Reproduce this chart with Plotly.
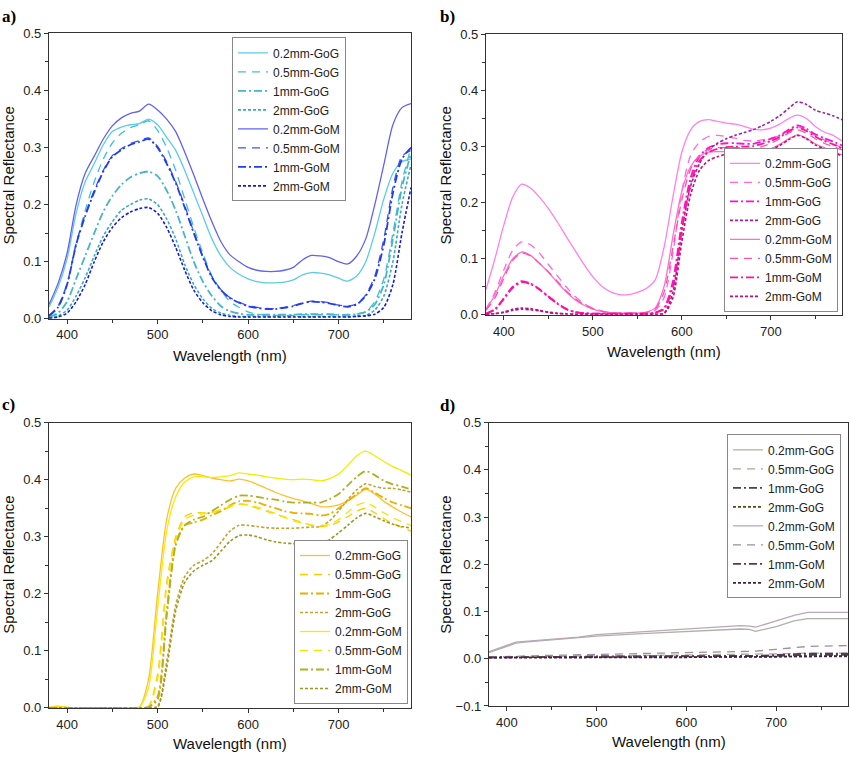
import plotly.graph_objects as go

# ---------------- DATA ----------------
wl = [380, 390, 400, 410, 420, 430, 440, 450, 460, 470, 480, 490, 500, 510, 520, 530, 540,
      550, 560, 570, 580, 590, 600, 610, 620, 630, 640, 650, 660, 670, 680, 690, 700, 710,
      720, 730, 740, 750, 760, 770, 780]
series_names = ["0.2mm-GoG", "0.5mm-GoG", "1mm-GoG", "2mm-GoG",
                "0.2mm-GoM", "0.5mm-GoM", "1mm-GoM", "2mm-GoM"]

# panel a
a_GoG_02 = [0.020,0.055,0.105,0.185,0.240,0.272,0.305,0.328,0.336,0.340,0.342,0.350,0.340,0.318,0.295,0.260,0.220,0.180,0.140,0.110,0.090,0.078,0.070,0.065,0.063,0.063,0.064,0.068,0.077,0.081,0.080,0.077,0.071,0.066,0.075,0.100,0.150,0.210,0.255,0.275,0.280]
a_GoG_05 = [0.005,0.020,0.060,0.130,0.190,0.240,0.280,0.308,0.325,0.335,0.340,0.347,0.330,0.300,0.260,0.210,0.160,0.115,0.075,0.050,0.030,0.020,0.012,0.008,0.007,0.006,0.006,0.006,0.007,0.007,0.007,0.007,0.007,0.007,0.008,0.012,0.030,0.070,0.150,0.240,0.300]
a_GoG_1 = [0.003,0.010,0.030,0.070,0.110,0.150,0.188,0.215,0.235,0.248,0.255,0.258,0.250,0.225,0.190,0.145,0.100,0.065,0.040,0.022,0.013,0.009,0.007,0.007,0.007,0.007,0.007,0.007,0.008,0.008,0.008,0.008,0.007,0.007,0.008,0.012,0.025,0.060,0.140,0.230,0.290]
a_GoG_2 = [0.002,0.005,0.015,0.040,0.072,0.110,0.145,0.170,0.190,0.200,0.208,0.210,0.200,0.175,0.140,0.095,0.060,0.035,0.018,0.010,0.006,0.004,0.004,0.004,0.004,0.004,0.004,0.004,0.004,0.004,0.004,0.004,0.004,0.004,0.005,0.006,0.015,0.040,0.100,0.200,0.270]
a_GoM_02 = [0.025,0.062,0.115,0.200,0.255,0.285,0.315,0.338,0.352,0.360,0.364,0.376,0.366,0.350,0.328,0.292,0.252,0.210,0.170,0.135,0.112,0.100,0.090,0.085,0.083,0.083,0.085,0.090,0.103,0.111,0.110,0.107,0.100,0.096,0.110,0.140,0.200,0.270,0.340,0.370,0.377]
a_GoM_05 = [0.006,0.022,0.062,0.132,0.183,0.225,0.260,0.286,0.298,0.307,0.312,0.317,0.302,0.275,0.240,0.198,0.152,0.110,0.074,0.051,0.037,0.029,0.023,0.020,0.018,0.018,0.020,0.023,0.028,0.031,0.030,0.028,0.024,0.022,0.026,0.042,0.075,0.140,0.230,0.285,0.295]
a_GoM_1 = [0.005,0.020,0.060,0.130,0.180,0.222,0.258,0.284,0.296,0.305,0.310,0.315,0.300,0.272,0.238,0.195,0.150,0.108,0.072,0.050,0.036,0.028,0.022,0.019,0.017,0.017,0.019,0.022,0.027,0.030,0.029,0.027,0.023,0.021,0.025,0.040,0.070,0.130,0.220,0.280,0.300]
a_GoM_2 = [0.001,0.003,0.010,0.030,0.060,0.100,0.135,0.160,0.177,0.187,0.193,0.195,0.185,0.160,0.125,0.085,0.050,0.028,0.014,0.007,0.004,0.003,0.003,0.003,0.003,0.003,0.003,0.003,0.003,0.003,0.003,0.003,0.003,0.003,0.004,0.005,0.008,0.020,0.060,0.150,0.230]

# panel b
b_GoG_02 = [0.045,0.100,0.160,0.210,0.233,0.226,0.210,0.190,0.166,0.140,0.115,0.090,0.068,0.051,0.041,0.036,0.036,0.040,0.047,0.062,0.120,0.210,0.290,0.330,0.345,0.348,0.345,0.342,0.340,0.336,0.331,0.330,0.333,0.340,0.350,0.356,0.350,0.336,0.326,0.320,0.310]
b_GoG_05 = [0.010,0.040,0.080,0.115,0.130,0.125,0.110,0.090,0.070,0.050,0.033,0.020,0.012,0.007,0.004,0.003,0.003,0.003,0.004,0.008,0.030,0.110,0.220,0.285,0.308,0.318,0.320,0.318,0.315,0.311,0.310,0.312,0.315,0.320,0.330,0.335,0.330,0.320,0.312,0.305,0.298]
b_GoG_1 = [0.002,0.010,0.030,0.050,0.060,0.056,0.046,0.033,0.021,0.011,0.005,0.003,0.002,0.002,0.002,0.002,0.002,0.002,0.002,0.004,0.012,0.060,0.165,0.245,0.283,0.298,0.304,0.306,0.306,0.305,0.305,0.309,0.314,0.320,0.330,0.338,0.332,0.322,0.315,0.309,0.302]
b_GoG_2 = [0.001,0.002,0.005,0.010,0.012,0.011,0.008,0.005,0.003,0.002,0.001,0.001,0.001,0.001,0.001,0.001,0.001,0.001,0.001,0.001,0.003,0.040,0.150,0.230,0.270,0.294,0.306,0.314,0.320,0.325,0.330,0.337,0.345,0.355,0.368,0.380,0.375,0.365,0.360,0.355,0.348]
b_GoM_02 = [0.010,0.035,0.070,0.100,0.112,0.106,0.092,0.076,0.058,0.041,0.027,0.017,0.010,0.006,0.004,0.003,0.003,0.003,0.005,0.012,0.050,0.140,0.220,0.265,0.283,0.290,0.291,0.291,0.290,0.289,0.288,0.290,0.296,0.304,0.314,0.321,0.315,0.305,0.298,0.292,0.285]
b_GoM_05 = [0.008,0.030,0.065,0.097,0.110,0.105,0.092,0.077,0.060,0.043,0.029,0.018,0.011,0.006,0.004,0.003,0.003,0.003,0.004,0.010,0.040,0.120,0.205,0.260,0.285,0.295,0.298,0.298,0.298,0.297,0.297,0.300,0.306,0.314,0.324,0.330,0.324,0.314,0.306,0.300,0.294]
b_GoM_1 = [0.002,0.009,0.028,0.048,0.058,0.055,0.045,0.032,0.020,0.010,0.005,0.003,0.002,0.002,0.002,0.002,0.002,0.002,0.002,0.004,0.010,0.050,0.150,0.235,0.275,0.290,0.296,0.299,0.300,0.300,0.301,0.305,0.310,0.317,0.327,0.334,0.328,0.318,0.310,0.304,0.297]
b_GoM_2 = [0.001,0.002,0.004,0.008,0.010,0.009,0.007,0.004,0.002,0.001,0.001,0.001,0.001,0.001,0.001,0.001,0.001,0.001,0.001,0.001,0.002,0.030,0.130,0.215,0.258,0.275,0.282,0.286,0.288,0.288,0.288,0.290,0.295,0.302,0.312,0.320,0.314,0.303,0.296,0.290,0.283]

# panel c
c_GoG_02 = [0.001,0.003,0.001,0.000,0.000,0.000,0.000,0.000,0.000,0.000,0.002,0.050,0.200,0.330,0.385,0.403,0.410,0.407,0.403,0.400,0.398,0.401,0.398,0.392,0.385,0.378,0.372,0.367,0.363,0.358,0.353,0.353,0.356,0.363,0.373,0.383,0.375,0.362,0.352,0.343,0.335]
c_GoG_05 = [0.000,0.000,0.000,0.000,0.000,0.000,0.000,0.000,0.000,0.000,0.000,0.003,0.060,0.220,0.300,0.335,0.342,0.342,0.343,0.346,0.352,0.357,0.355,0.350,0.345,0.340,0.335,0.330,0.325,0.320,0.318,0.320,0.326,0.335,0.345,0.350,0.342,0.332,0.323,0.316,0.310]
c_GoG_1 = [0.000,0.000,0.000,0.000,0.000,0.000,0.000,0.000,0.000,0.000,0.000,0.002,0.020,0.170,0.290,0.320,0.325,0.330,0.338,0.345,0.355,0.362,0.363,0.360,0.355,0.350,0.345,0.342,0.341,0.340,0.337,0.340,0.350,0.362,0.375,0.385,0.377,0.368,0.360,0.355,0.350]
c_GoG_2 = [0.000,0.000,0.000,0.000,0.000,0.000,0.000,0.000,0.000,0.000,0.000,0.000,0.003,0.080,0.180,0.230,0.250,0.258,0.270,0.290,0.310,0.320,0.320,0.318,0.316,0.315,0.315,0.315,0.316,0.317,0.318,0.328,0.345,0.365,0.382,0.393,0.388,0.385,0.385,0.382,0.378]
c_GoM_02 = [0.001,0.002,0.001,0.000,0.000,0.000,0.000,0.000,0.000,0.000,0.001,0.035,0.175,0.310,0.370,0.396,0.405,0.405,0.404,0.405,0.407,0.412,0.410,0.408,0.405,0.403,0.401,0.400,0.401,0.400,0.398,0.402,0.410,0.425,0.442,0.450,0.442,0.432,0.423,0.416,0.408]
c_GoM_05 = [0.000,0.000,0.000,0.000,0.000,0.000,0.000,0.000,0.000,0.000,0.000,0.002,0.050,0.210,0.295,0.330,0.338,0.340,0.343,0.348,0.354,0.358,0.356,0.352,0.347,0.341,0.334,0.328,0.324,0.321,0.319,0.322,0.330,0.343,0.355,0.360,0.352,0.342,0.333,0.326,0.320]
c_GoM_1 = [0.000,0.000,0.000,0.000,0.000,0.000,0.000,0.000,0.000,0.000,0.000,0.001,0.015,0.160,0.285,0.320,0.330,0.335,0.345,0.355,0.365,0.372,0.372,0.370,0.367,0.365,0.362,0.360,0.360,0.360,0.360,0.366,0.375,0.390,0.405,0.415,0.408,0.398,0.392,0.388,0.383]
c_GoM_2 = [0.000,0.000,0.000,0.000,0.000,0.000,0.000,0.000,0.000,0.000,0.000,0.000,0.001,0.070,0.170,0.220,0.240,0.250,0.258,0.275,0.292,0.302,0.303,0.300,0.295,0.291,0.289,0.288,0.288,0.288,0.288,0.295,0.307,0.320,0.333,0.341,0.335,0.328,0.322,0.318,0.315]

# panel d
wl_d = [380, 390, 400, 410, 420, 450, 480, 500, 550, 600, 650, 660, 670, 677, 700, 720, 735, 780]
d_GoG_02 = [0.013,0.020,0.027,0.033,0.035,0.040,0.044,0.048,0.053,0.057,0.062,0.063,0.062,0.058,0.068,0.080,0.085,0.085]
d_GoG_05 = [0.004,0.004,0.004,0.005,0.005,0.005,0.006,0.006,0.007,0.008,0.009,0.009,0.009,0.009,0.010,0.011,0.012,0.012]
d_GoG_1 = [0.003,0.003,0.003,0.003,0.003,0.004,0.004,0.004,0.004,0.005,0.005,0.005,0.005,0.005,0.006,0.007,0.008,0.008]
d_GoG_2 = [0.003,0.003,0.003,0.003,0.003,0.003,0.003,0.003,0.003,0.004,0.004,0.004,0.004,0.004,0.004,0.005,0.005,0.005]
d_GoM_02 = [0.015,0.022,0.029,0.035,0.037,0.042,0.046,0.051,0.057,0.063,0.068,0.070,0.069,0.067,0.080,0.092,0.098,0.098]
d_GoM_05 = [0.004,0.004,0.005,0.005,0.006,0.007,0.008,0.009,0.011,0.013,0.015,0.015,0.015,0.016,0.020,0.024,0.026,0.028]
d_GoM_1 = [0.003,0.003,0.003,0.003,0.004,0.004,0.004,0.005,0.005,0.006,0.006,0.006,0.006,0.006,0.008,0.010,0.011,0.011]
d_GoM_2 = [0.002,0.002,0.002,0.002,0.002,0.003,0.003,0.003,0.003,0.003,0.004,0.004,0.004,0.004,0.004,0.005,0.005,0.006]

x_ticks = [400, 500, 600, 700]

# ---------------- STYLE ----------------
FONT = "Arial, Liberation Sans, sans-serif"
DASHES = ["solid", "8px,6px", "8px,3px,2px,3px", "3px,2px"] * 2
WIDTHS = [1.3, 1.3, 1.8, 1.6, 1.3, 1.3, 1.8, 1.6]

panels = [
    dict(x=wl, ys=[a_GoG_02, a_GoG_05, a_GoG_1, a_GoG_2, a_GoM_02, a_GoM_05, a_GoM_1, a_GoM_2],
         colors=["#5ccbe8", "#3fc0dc", "#48b4c8", "#3aa8c0", "#6262f0", "#4252f0", "#1f3cf0", "#1a1ad0"],
         shape="spline", yr=[0, 0.5]),
    dict(x=wl, ys=[b_GoG_02, b_GoG_05, b_GoG_1, b_GoG_2, b_GoM_02, b_GoM_05, b_GoM_1, b_GoM_2],
         colors=["#ff80ee", "#ff66e6", "#ff10d8", "#a020a0", "#ff70c8", "#ff4fb0", "#ff1493", "#c0107a"],
         shape="spline", yr=[0, 0.5]),
    dict(x=wl, ys=[c_GoG_02, c_GoG_05, c_GoG_1, c_GoG_2, c_GoM_02, c_GoM_05, c_GoM_1, c_GoM_2],
         colors=["#ffc030", "#ffcc00", "#e8b000", "#c8a030", "#f2ee00", "#f5e600", "#b0b020", "#9a9a20"],
         shape="spline", yr=[0, 0.5]),
    dict(x=wl_d, ys=[d_GoG_02, d_GoG_05, d_GoG_1, d_GoG_2, d_GoM_02, d_GoM_05, d_GoM_1, d_GoM_2],
         colors=["#b0b0a8", "#a8a898", "#404848", "#5a4818", "#b8a8b8", "#a08ca0", "#583858", "#402040"],
         shape="linear", yr=[-0.1, 0.5]),
]

W, H = 850, 762
# plot boxes in pixels: left, right, top, bottom
boxes = [(49, 411, 27, 318), (486, 842, 28, 314), (49, 411, 424, 715), (489, 848, 424, 713)]
# legend anchor: left edge x, y, vertical anchor
legend_pos = [(232, 31, "top"), (724, 311, "bottom"), (294, 711, "bottom"), (727, 436, "top")]
ylab_pos = [(9, 172), (446, 172), (9, 569), (446, 569)]
xlab_y = [356, 351, 751, 749]
panel_labels = ["a)", "b)", "c)", "d)"]
plabel_pos = [(0, 10), (438, 10), (0, 405), (438, 406)]

fig = go.Figure()
layout = dict(width=W, height=H, margin=dict(l=0, r=0, t=0, b=0),
              paper_bgcolor="white", plot_bgcolor="white",
              font=dict(family=FONT, size=12.5, color="#222"), annotations=[])

for i, p in enumerate(panels):
    s = "" if i == 0 else str(i + 1)
    for j, name in enumerate(series_names):
        fig.add_trace(go.Scatter(
            x=p["x"], y=p["ys"][j], name=name, mode="lines",
            line=dict(color=p["colors"][j], width=WIDTHS[j], dash=DASHES[j],
                      shape=p["shape"], smoothing=0.7),
            xaxis="x" + s, yaxis="y" + s, legend="legend" + s))
    l, r, t, b = boxes[i]
    axstyle = dict(showline=True, linecolor="#333", linewidth=1.3, mirror=True,
                   ticks="outside", ticklen=4, tickcolor="#333", showgrid=False,
                   zeroline=False, tickfont=dict(size=13, color="#222"))
    layout["xaxis" + s] = dict(domain=[l / W, r / W], anchor="y" + s, range=[380, 780],
                               tickvals=x_ticks,
                               minor=dict(dtick=50, tick0=400, ticks="outside", ticklen=3,
                                          tickcolor="#333"), **axstyle)
    layout["yaxis" + s] = dict(domain=[1 - b / H, 1 - t / H], anchor="x" + s, range=p["yr"],
                               dtick=0.1, tickformat=".1f",
                               minor=dict(dtick=0.05, ticks="outside", ticklen=3,
                                          tickcolor="#333"), **axstyle)
    lx, ly, anc = legend_pos[i]
    layout["legend" + s] = dict(x=lx / W, y=1 - ly / H, xanchor="left", yanchor=anc,
                                bgcolor="white", bordercolor="#888", borderwidth=1,
                                font=dict(size=12, color="#222", family=FONT),
                                itemwidth=30, tracegroupgap=0)
    layout["annotations"].append(dict(
        text="Wavelength (nm)", x=(l + r) / 2 / W, y=1 - xlab_y[i] / H, xref="paper", yref="paper",
        xanchor="center", yanchor="middle", showarrow=False, font=dict(size=15, color="#111")))
    yx, yy = ylab_pos[i]
    layout["annotations"].append(dict(
        text="Spectral Reflectance", x=yx / W, y=1 - yy / H, xref="paper", yref="paper",
        xanchor="center", yanchor="middle", textangle=-90, showarrow=False,
        font=dict(size=15, color="#111")))
    px, py = plabel_pos[i]
    layout["annotations"].append(dict(
        text="<b>" + panel_labels[i] + "</b>", x=px / W, y=1 - py / H, xref="paper", yref="paper",
        xanchor="left", yanchor="middle", showarrow=False,
        font=dict(size=17, color="#000", family="Liberation Serif, Times New Roman, serif")))

fig.update_layout(**layout)
fig.write_html("out.html", config={"displayModeBar": False},
               post_script="document.body.style.margin='0';document.body.style.overflow='hidden';")
